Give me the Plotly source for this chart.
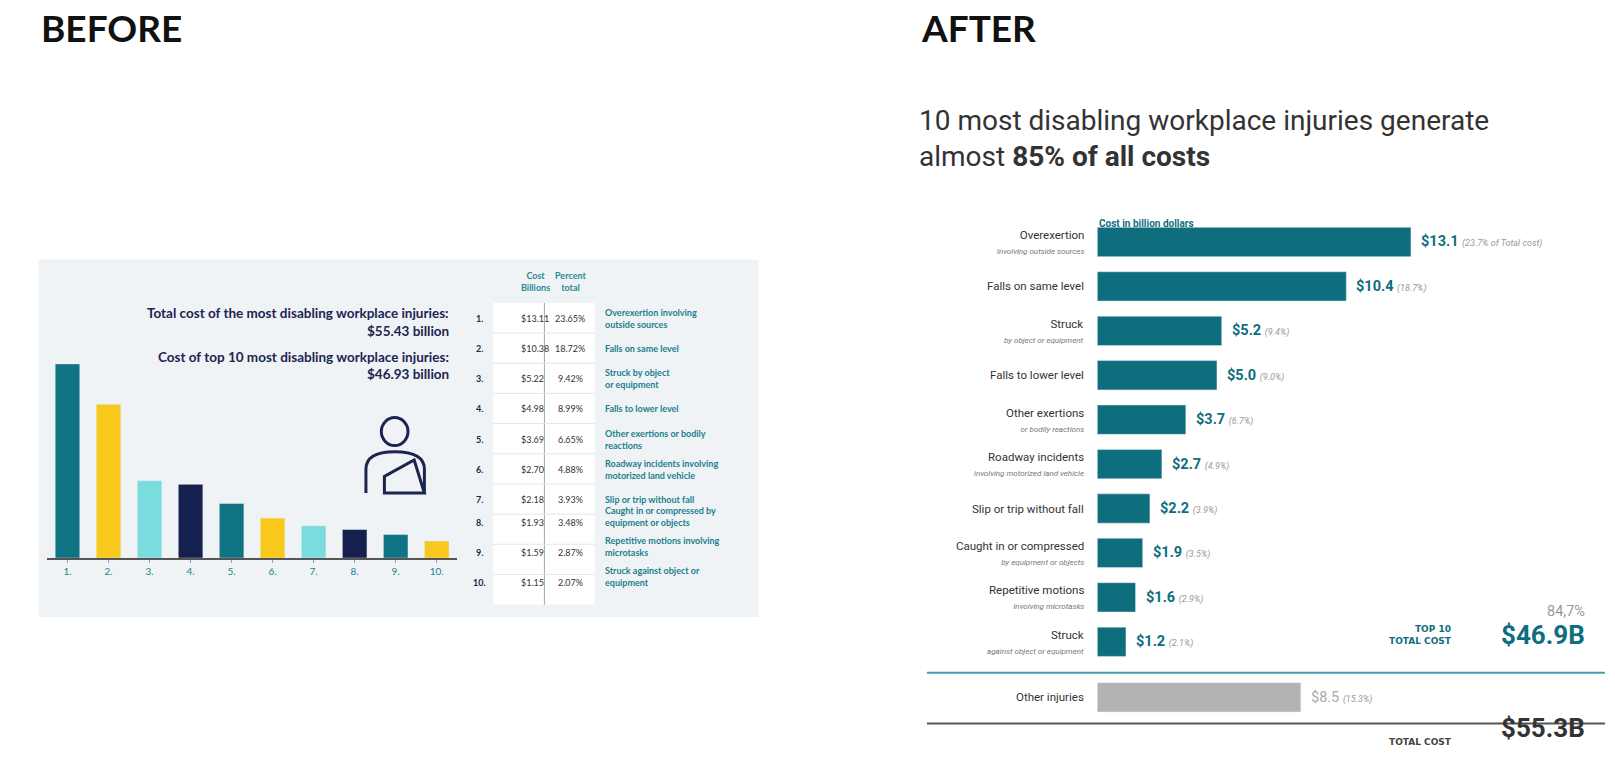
import plotly.graph_objects as go

W, H = 1615, 776

# ---- data ----
ranks = ["1.", "2.", "3.", "4.", "5.", "6.", "7.", "8.", "9.", "10."]
costs = [13.11, 10.38, 5.22, 4.98, 3.69, 2.70, 2.18, 1.93, 1.59, 1.15]
percents = ["23.65%", "18.72%", "9.42%", "8.99%", "6.65%", "4.88%", "3.93%", "3.48%", "2.87%", "2.07%"]
long_names = ["Overexertion involving<br>outside sources", "Falls on same level",
              "Struck by object<br>or equipment", "Falls to lower level",
              "Other exertions or bodily<br>reactions", "Roadway incidents involving<br>motorized land vehicle",
              "Slip or trip without fall", "Caught in or compressed by<br>equipment or objects",
              "Repetitive motions involving<br>microtasks", "Struck against object or<br>equipment"]
before_colors = ["#0e7483", "#f8c81c", "#7adcdc", "#16204f"] * 3

names = ["Overexertion", "Falls on same level", "Struck", "Falls to lower level", "Other exertions",
         "Roadway incidents", "Slip or trip without fall", "Caught in or compressed",
         "Repetitive motions", "Struck"]
subs = ["involving outside sources", "", "by object or equipment", "", "or bodily reactions",
        "involving motorized land vehicle", "", "by equipment or objects",
        "involving microtasks", "against object or equipment"]
after_vals = [13.1, 10.4, 5.2, 5.0, 3.7, 2.7, 2.2, 1.9, 1.6, 1.2]
after_pcts = ["23.7% of Total cost", "18.7%", "9.4%", "9.0%", "6.7%", "4.9%", "3.9%", "3.5%", "2.9%", "2.1%"]
other_val, other_pct = 8.5, "15.3%"

TEAL = "#0e6e7e"

# empirical correction between the reference's pixel grid and the rendered page
SX, OX = 0.975, 8.0
SY, OY = 0.968, 8.5


def px(x):
    return ((x - OX) / SX) / W


def py(y):
    return 1 - ((y - OY) / SY) / H


fig = go.Figure()

# Before: vertical bars
fig.add_trace(go.Bar(x=ranks, y=costs, marker_color=before_colors, width=0.6,
                     xaxis="x", yaxis="y", showlegend=False, hoverinfo="skip"))

# After: horizontal bars
pos = list(range(len(after_vals)))
fig.add_trace(go.Bar(y=pos, x=after_vals, orientation="h", marker_color=TEAL, width=0.66,
                     xaxis="x2", yaxis="y2", showlegend=False, hoverinfo="skip"))
fig.add_trace(go.Bar(y=[10.25], x=[other_val], orientation="h", marker_color="#b3b3b3", width=0.66,
                     xaxis="x2", yaxis="y2", showlegend=False, hoverinfo="skip"))

ann = []
shapes = []

# Titles
ann.append(dict(x=px(38), y=py(27), text="<b>BEFORE</b>", xanchor="left", yanchor="middle",
                font=dict(size=37, color="#111", family="Lato")))
ann.append(dict(x=px(896), y=py(27), text="<b>AFTER</b>", xanchor="left", yanchor="middle",
                font=dict(size=37, color="#111", family="Lato")))
ann.append(dict(x=px(894), y=py(135), align="left",
                text="10 most disabling workplace injuries generate<br>almost <b>85% of all costs</b>",
                xanchor="left", yanchor="middle", font=dict(size=28, color="#333", family="Roboto")))

# Before panel background
shapes.append(dict(type="rect", xref="paper", yref="paper", x0=px(38), x1=px(740), y0=py(598), y1=py(252),
                   fillcolor="#f0f3f5", line_width=0, layer="below"))
# table white cells
shapes.append(dict(type="rect", xref="paper", yref="paper", x0=px(481), x1=px(580), y0=py(586), y1=py(294),
                   fillcolor="white", line_width=0, layer="below"))
shapes.append(dict(type="line", xref="paper", yref="paper", x0=px(531), x1=px(531), y0=py(586), y1=py(294),
                   line=dict(color="#9aa", width=1)))
for i in range(1, 10):
    yy = 294 + 29.2 * i
    shapes.append(dict(type="line", xref="paper", yref="paper", x0=px(481), x1=px(580), y0=py(yy), y1=py(yy),
                       line=dict(color="#e3e6e8", width=1)))

bf = dict(family="Lato", color="#1b2550", size=13.5)
ann.append(dict(x=px(440), y=py(304), text="<b>Total cost of the most disabling workplace injuries:</b>",
                xanchor="right", font=bf))
ann.append(dict(x=px(440), y=py(321), text="<b>$55.43 billion</b>", xanchor="right", font=bf))
ann.append(dict(x=px(440), y=py(346), text="<b>Cost of top 10 most disabling workplace injuries:</b>",
                xanchor="right", font=bf))
ann.append(dict(x=px(440), y=py(363), text="<b>$46.93 billion</b>", xanchor="right", font=bf))
ann.append(dict(x=px(506), y=py(273), text="<b>Cost<br>Billions</b>", font=dict(size=9, color="#2a8a96", family="Lato")))
ann.append(dict(x=px(556), y=py(273), text="<b>Percent<br>total</b>", font=dict(size=9, color="#2a8a96", family="Lato")))
for i in range(10):
    yy = 309 + 29.2 * i
    ann.append(dict(x=px(468), y=py(yy), text="<b>%s</b>" % ranks[i], xanchor="center",
                    font=dict(size=9, color="#1b2550", family="Lato")))
    ann.append(dict(x=px(506), y=py(yy), text="$%.2f" % costs[i], font=dict(size=9, color="#333", family="Lato")))
    ann.append(dict(x=px(556), y=py(yy), text=percents[i], font=dict(size=9, color="#333", family="Lato")))
    ann.append(dict(x=px(588), y=py(yy), text="<b>%s</b>" % long_names[i], xanchor="left", align="left",
                    font=dict(size=9, color="#1a7f8e", family="Lato")))

# person icon
ic = dict(color="#1b2550", width=3)
shapes.append(dict(type="circle", xref="paper", yref="paper", x0=px(372), x1=px(398), y0=py(432), y1=py(405),
                   line=ic))
shapes.append(dict(type="path", xref="paper", yref="paper",
                   path="M %f %f L %f %f Q %f %f %f %f Q %f %f %f %f L %f %f" % (
                       px(357), py(478), px(357), py(455), px(357), py(438), px(385), py(438),
                       px(414), py(438), px(414), py(455), px(414), py(478)), line=ic))
shapes.append(dict(type="path", xref="paper", yref="paper",
                   path="M %f %f L %f %f L %f %f L %f %f Z" % (
                       px(375), py(478), px(375), py(462), px(404), py(446), px(414), py(478)), line=ic))

# After labels
for i in range(10):
    t = "%s" % names[i]
    if subs[i]:
        t += "<br><i><span style='font-size:8px;color:#777'>%s</span></i>" % subs[i]
    ann.append(dict(x=px(1059), y=pos[i], yref="y2", xref="paper", text=t, xanchor="right", align="right",
                    font=dict(size=11.5, color="#333", family="Roboto")))
    ann.append(dict(x=after_vals[i], y=pos[i], xref="x2", yref="y2", xanchor="left", xshift=8,
                    text="<b>$%.1f</b> <i><span style='font-size:9px;color:#999'>(%s)</span></i>" % (after_vals[i], after_pcts[i]),
                    font=dict(size=14.5, color=TEAL, family="Roboto")))
ann.append(dict(x=px(1059), y=10.25, yref="y2", xref="paper", text="Other injuries", xanchor="right",
                font=dict(size=11.5, color="#333", family="Roboto")))
ann.append(dict(x=other_val, y=10.25, xref="x2", yref="y2", xanchor="left", xshift=8,
                text="$%.1f <i><span style='font-size:9px;color:#999'>(%s)</span></i>" % (other_val, other_pct),
                font=dict(size=14.5, color="#aaa", family="Roboto")))
ann.append(dict(x=px(1070), y=py(210), text="<b>Cost in billion dollars</b>", xanchor="left",
                font=dict(size=10, color=TEAL, family="Roboto")))

shapes.append(dict(type="line", xref="paper", yref="paper", x0=px(904), x1=px(1565), y0=py(652), y1=py(652),
                   line=dict(color="#4a9bb0", width=2)))
shapes.append(dict(type="line", xref="paper", yref="paper", x0=px(904), x1=px(1565), y0=py(701), y1=py(701),
                   line=dict(color="#555", width=2)))

ann.append(dict(x=px(1418), y=py(628), text="<b>TOP 10<br>TOTAL COST</b>", xanchor="right", align="right",
                font=dict(size=9, color=TEAL, family="DejaVu Sans")))
ann.append(dict(x=px(1548), y=py(603), text="84,7%", xanchor="right", font=dict(size=14.5, color="#999", family="Roboto")))
ann.append(dict(x=px(1548), y=py(632), text="<b>$46.9B</b>", xanchor="right", font=dict(size=26, color=TEAL, family="Roboto")))
ann.append(dict(x=px(1418), y=py(726), text="<b>TOTAL COST</b>", xanchor="right",
                font=dict(size=9, color="#444", family="DejaVu Sans")))
ann.append(dict(x=px(1548), y=py(722), text="<b>$55.3B</b>", xanchor="right", font=dict(size=26, color="#333", family="Roboto")))

for a in ann:
    a.setdefault("xref", "paper")
    a.setdefault("yref", "paper")
    a["showarrow"] = False

fig.update_layout(
    width=W, height=H, margin=dict(l=0, r=0, t=0, b=0),
    paper_bgcolor="white", plot_bgcolor="rgba(0,0,0,0)",
    annotations=ann, shapes=shapes, bargap=0.4,
    xaxis=dict(domain=[px(46), px(446)], showline=True, linecolor="#555", linewidth=2, ticks="outside",
               tickcolor="#999", ticklen=3, tickfont=dict(size=10, color="#1a7f8e", family="Lato")),
    yaxis=dict(domain=[py(541), py(353)], range=[0, 13.11], visible=False),
    xaxis2=dict(domain=[px(1070), px(1070 + 23.35 * 21)], range=[0, 21], visible=False),
    yaxis2=dict(domain=[py(708), py(213.5)], range=[11, -0.5], visible=False),
)

fig.write_html("out.html")
